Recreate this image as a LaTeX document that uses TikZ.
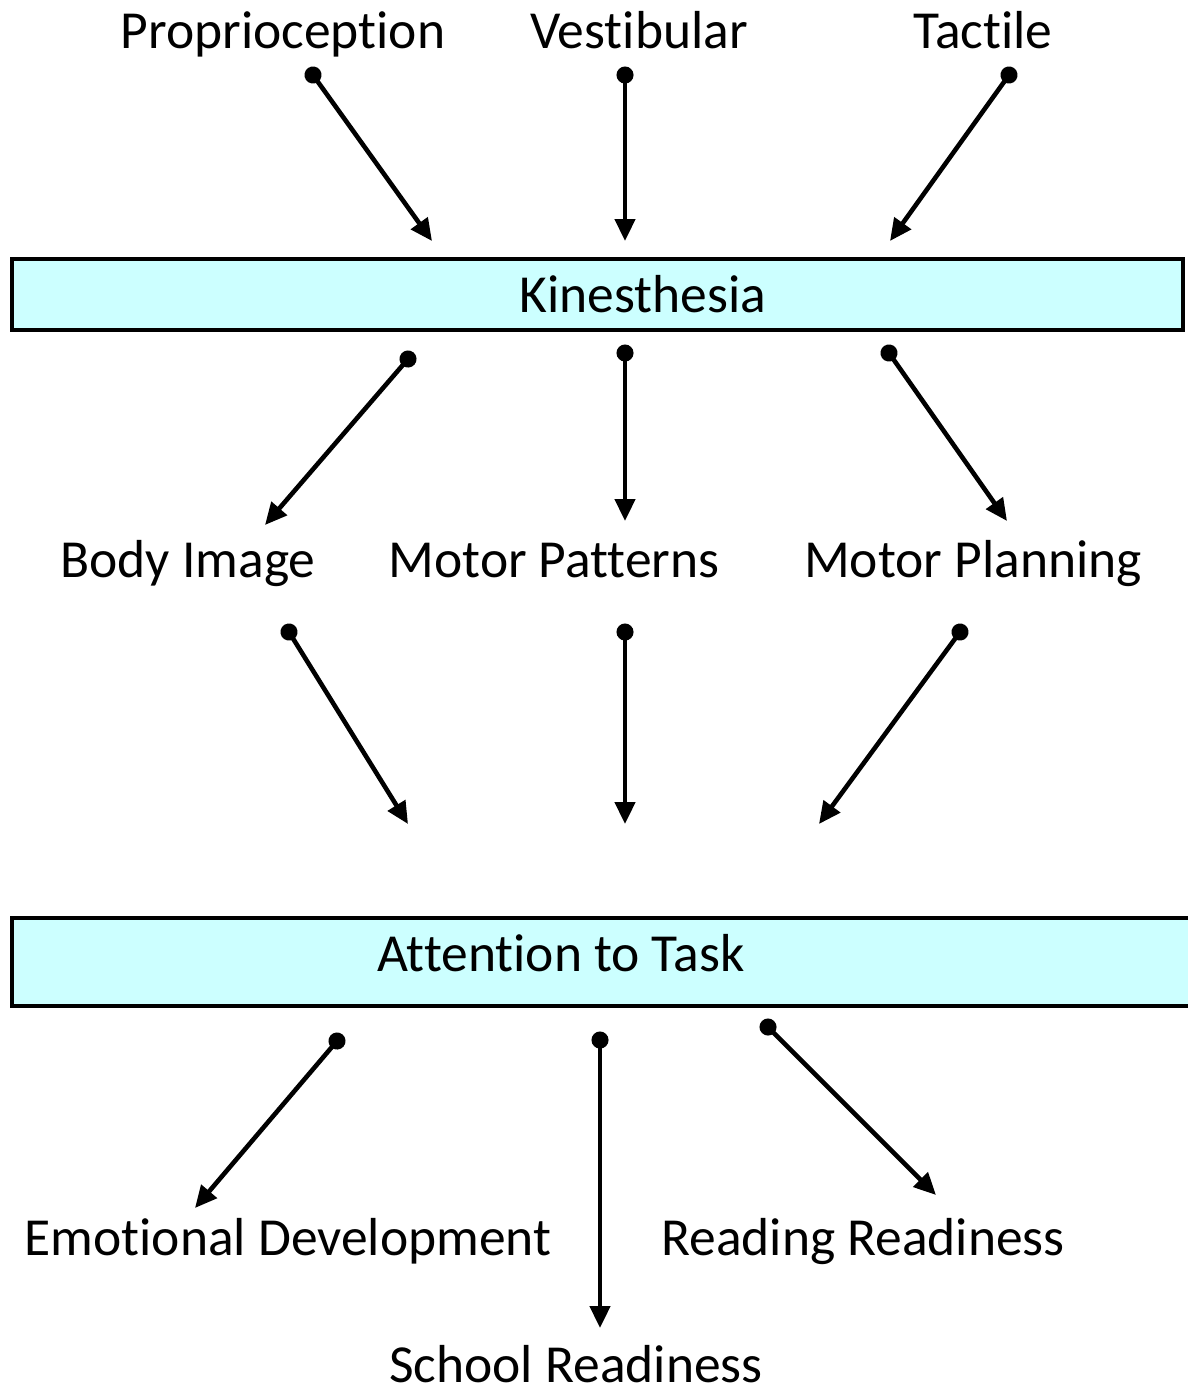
\documentclass[tikz,border=0pt]{standalone}
\usepackage{fontspec}
\setmainfont{Carlito}[Ligatures=NoCommon]
\usetikzlibrary{arrows.meta}
\definecolor{boxcyan}{HTML}{CCFFFF}
\tikzset{
  lbl/.style={anchor=base, inner sep=0pt, font=\fontsize{53.5}{60}\selectfont},
  bandbox/.style={draw=black, line width=4pt, fill=boxcyan, inner sep=0pt, anchor=north west},
  conn/.style={line width=4.6pt, {Circle[length=17pt]}-{Triangle[length=22pt,width=20pt]}, shorten <=-8.5pt},
}
\begin{document}
\begin{tikzpicture}[x=1pt,y=-1pt]
\useasboundingbox (0,0) rectangle (1187,1387);
\node[bandbox, minimum width=1171pt, minimum height=71pt] (kbox) at (10,257) {};
\node[bandbox, minimum width=1185pt, minimum height=88pt] (abox) at (10,916) {};

\node[lbl] (prop) at (283,48) {Proprioception};
\node[lbl] (vest) at (639,48) {Vestibular};
\node[lbl] (tact) at (983,48) {Tactile};
\node[lbl] (kin) at (643,312) {Kinesthesia};
\node[lbl] (body) at (188,577) {Body Image};
\node[lbl] (mpat) at (554,577) {Motor Patterns};
\node[lbl] (mplan) at (973,577) {Motor Planning};
\node[lbl] (att) at (561,971) {Attention to Task};
\node[lbl] (emo) at (288,1255) {Emotional Development};
\node[lbl] (read) at (863,1255) {Reading Readiness};
\node[lbl] (school) at (576,1382) {School Readiness};

\coordinate (a1s) at (313,75);  \coordinate (a1e) at (432,241);
\coordinate (a2s) at (625,75);  \coordinate (a2e) at (625,241);
\coordinate (a3s) at (1009,75); \coordinate (a3e) at (890,241);
\coordinate (b1s) at (408,359); \coordinate (b1e) at (265,525);
\coordinate (b2s) at (625,353); \coordinate (b2e) at (625,521);
\coordinate (b3s) at (889,353); \coordinate (b3e) at (1007,521);
\coordinate (c1s) at (289,632); \coordinate (c1e) at (408,824);
\coordinate (c2s) at (625,632); \coordinate (c2e) at (625,824);
\coordinate (c3s) at (960,632); \coordinate (c3e) at (819,824);
\coordinate (d1s) at (337,1041); \coordinate (d1e) at (195,1208);
\coordinate (d2s) at (600,1040); \coordinate (d2e) at (600,1328);
\coordinate (d3s) at (768,1027); \coordinate (d3e) at (936,1195);

\foreach \n in {a1,a2,a3,b1,b2,b3,c1,c2,c3,d1,d2,d3}
  \draw[conn] (\n s) -- (\n e);
\end{tikzpicture}
\end{document}
